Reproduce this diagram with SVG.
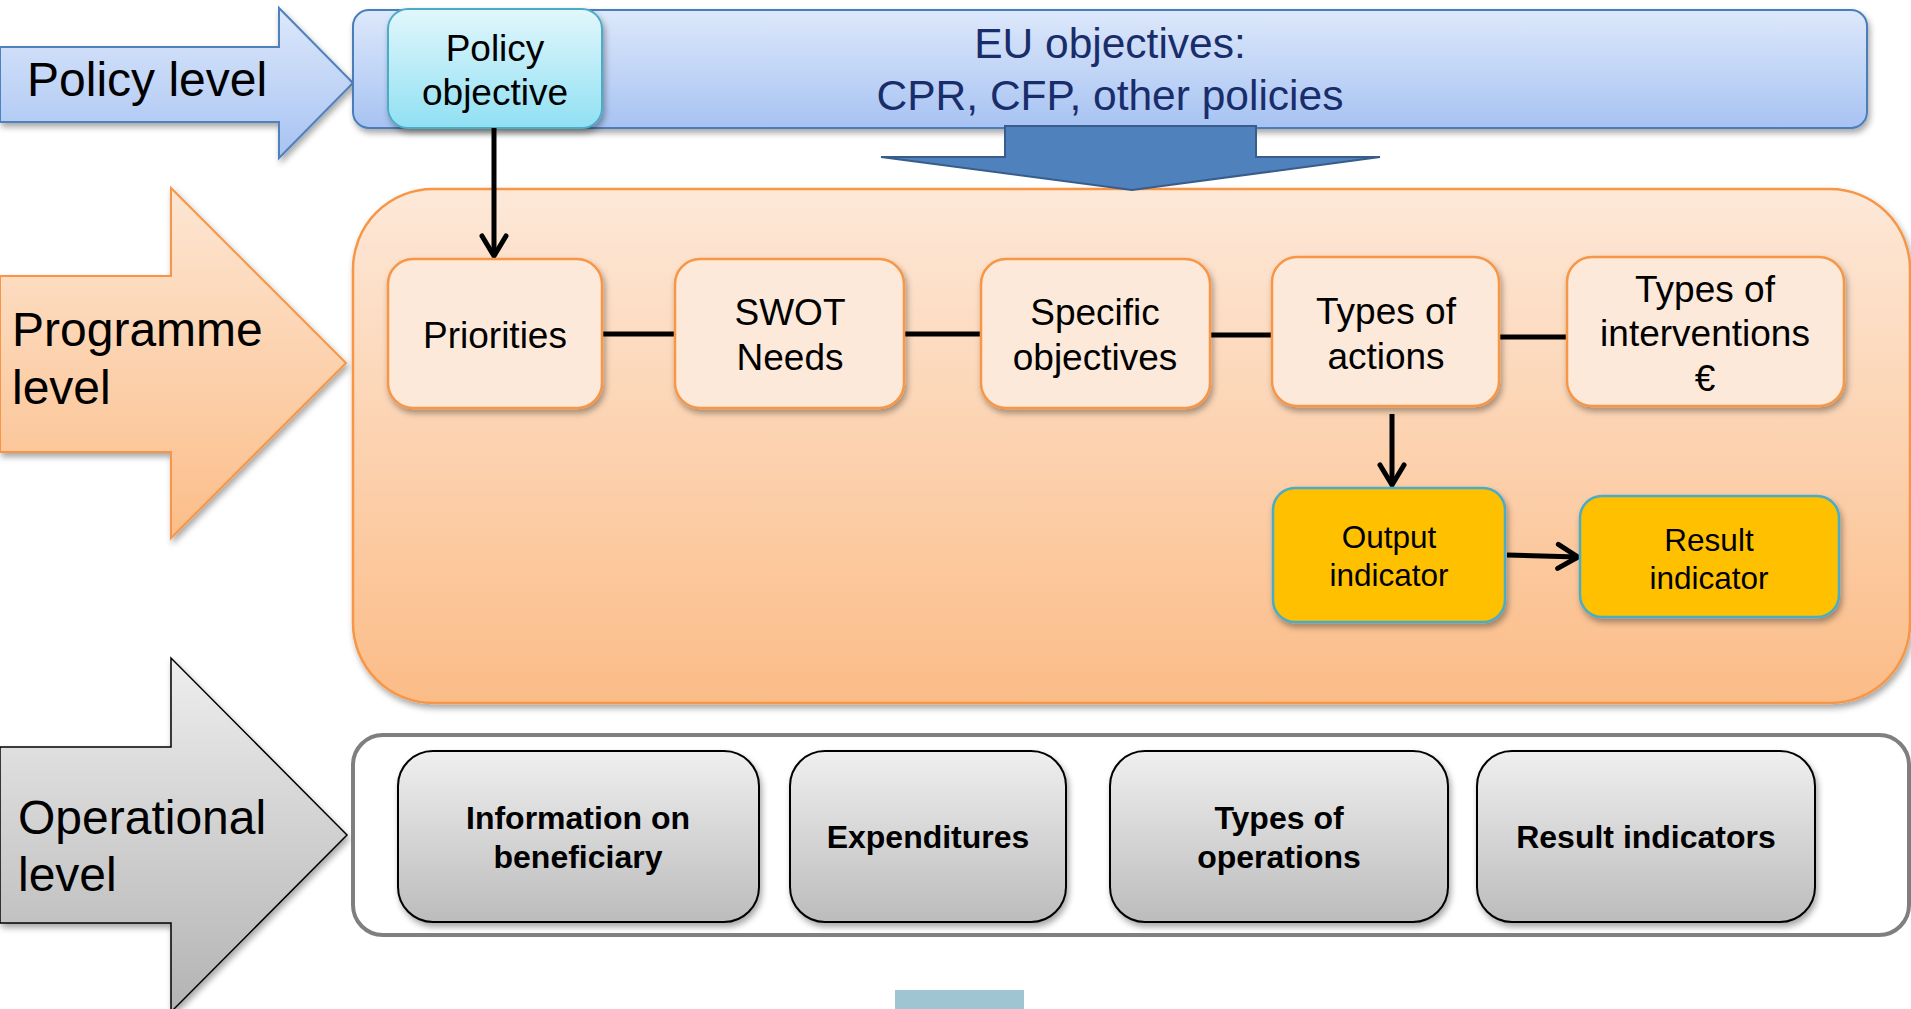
<svg xmlns="http://www.w3.org/2000/svg" width="1911" height="1009" viewBox="0 0 1911 1009">
<defs>
<linearGradient id="gBlue" x1="0" y1="0" x2="0" y2="1"><stop offset="0" stop-color="#dde8fb"/><stop offset="1" stop-color="#a7c3f2"/></linearGradient>
<linearGradient id="gCyan" x1="0" y1="0" x2="0" y2="1"><stop offset="0" stop-color="#e2f7fc"/><stop offset="1" stop-color="#90e0f3"/></linearGradient>
<linearGradient id="gOrange" x1="0" y1="0" x2="0" y2="1"><stop offset="0" stop-color="#fde6d3"/><stop offset="1" stop-color="#fbbd88"/></linearGradient>
<linearGradient id="gOrangeBox" x1="0" y1="0" x2="0" y2="1"><stop offset="0" stop-color="#fde8d8"/><stop offset="1" stop-color="#fbbc87"/></linearGradient>
<linearGradient id="gGray" x1="0" y1="0" x2="0" y2="1"><stop offset="0" stop-color="#eeeeee"/><stop offset="1" stop-color="#b3b3b3"/></linearGradient>
<linearGradient id="gGrayBox" x1="0" y1="0" x2="0" y2="1"><stop offset="0" stop-color="#efefef"/><stop offset="1" stop-color="#bcbcbc"/></linearGradient>
<filter id="sh" x="-10%" y="-10%" width="125%" height="135%"><feDropShadow dx="2" dy="4" stdDeviation="3" flood-color="#000" flood-opacity="0.35"/></filter>
<marker id="arr" viewBox="0 0 30 30" markerWidth="30" markerHeight="30" refX="25" refY="15" orient="auto" markerUnits="userSpaceOnUse"><path d="M5,3 L25,15 L5,27" fill="none" stroke="#000" stroke-width="5" stroke-linecap="round" stroke-linejoin="miter"/></marker>
<style>
.lvl{font-family:"Liberation Sans",Arial,sans-serif;font-size:48px;fill:#000}
.t{font-family:"Liberation Sans",Arial,sans-serif;font-size:37px;fill:#000;text-anchor:middle}
.ty{font-family:"Liberation Sans",Arial,sans-serif;font-size:31.5px;fill:#000;text-anchor:middle}
.tb{font-family:"Liberation Sans",Arial,sans-serif;font-size:32px;font-weight:bold;fill:#000;text-anchor:middle}
.teu{font-family:"Liberation Sans",Arial,sans-serif;font-size:42.5px;fill:#1a2d6b;text-anchor:middle}
.pbox{fill:#fde9d9;stroke:#f79646;stroke-width:2.5}
.ybox{fill:#ffc000;stroke:#4bacc6;stroke-width:2.5}
.gbox{fill:url(#gGrayBox);stroke:#000;stroke-width:2}
.conn{stroke:#000;stroke-width:5;fill:none}
</style>
</defs>

<g id="policy-level-arrow">
<polygon points="0,47 279,47 279,8 353,83 279,158 279,122 0,122" fill="url(#gBlue)" stroke="#4f81bd" stroke-width="2" filter="url(#sh)"/>
<text class="lvl" x="27" y="96">Policy level</text>
</g>
<g id="programme-level-arrow">
<polygon points="0,276 171,276 171,188 346,363 171,538 171,452 0,452" fill="url(#gOrange)" stroke="#f79646" stroke-width="2" filter="url(#sh)"/>
<text class="lvl" x="12" y="346">Programme</text>
<text class="lvl" x="12" y="404">level</text>
</g>
<g id="operational-level-arrow">
<polygon points="0,747 171,747 171,658 347,835 171,1012 171,923 0,923" fill="url(#gGray)" stroke="#000" stroke-width="1.5" filter="url(#sh)"/>
<text class="lvl" x="18" y="834">Operational</text>
<text class="lvl" x="18" y="891">level</text>
</g>

<g id="eu-objectives">
<rect x="353" y="10" width="1514" height="118" rx="16" fill="url(#gBlue)" stroke="#4a7ebb" stroke-width="2" filter="url(#sh)"/>
<text class="teu" x="1110" y="58">EU objectives:</text>
<text class="teu" x="1110" y="110">CPR, CFP, other policies</text>
</g>

<g id="policy-objective">
<rect x="388" y="9" width="214" height="119" rx="20" fill="url(#gCyan)" stroke="#4bacc6" stroke-width="2" filter="url(#sh)"/>
<text class="t" x="495" y="61">Policy</text>
<text class="t" x="495" y="105">objective</text>
</g>

<g id="programme-container">
<rect x="353" y="189" width="1557" height="514" rx="80" fill="url(#gOrangeBox)" stroke="#f79646" stroke-width="2.5" filter="url(#sh)"/>
</g>

<g id="eu-down-arrow">
<polygon points="1005,126 1256,126 1256,157 1380,157 1132,190 881,157 1005,157" fill="#4f81bd" stroke="#385d8a" stroke-width="2"/>
</g>

<g id="operational-container">
<rect x="353" y="735" width="1556" height="200" rx="30" fill="#ffffff" stroke="#7f7f7f" stroke-width="4"/>
</g>

<g id="connectors">
<line class="conn" x1="494" y1="128" x2="494" y2="256" marker-end="url(#arr)"/>
<line class="conn" x1="602" y1="334" x2="675" y2="334"/>
<line class="conn" x1="904" y1="334" x2="981" y2="334"/>
<line class="conn" x1="1210" y1="335" x2="1271" y2="335"/>
<line class="conn" x1="1499" y1="337" x2="1567" y2="337"/>
<line class="conn" x1="1392" y1="414" x2="1392" y2="485" marker-end="url(#arr)"/>
<line class="conn" x1="1507" y1="555" x2="1578" y2="557" marker-end="url(#arr)"/>
</g>

<g id="priorities">
<rect class="pbox" x="388" y="259" width="214" height="149" rx="25" filter="url(#sh)"/>
<text class="t" x="495" y="348">Priorities</text>
</g>
<g id="swot-needs">
<rect class="pbox" x="675" y="259" width="229" height="149" rx="25" filter="url(#sh)"/>
<text class="t" x="790" y="325">SWOT</text>
<text class="t" x="790" y="370">Needs</text>
</g>
<g id="specific-objectives">
<rect class="pbox" x="981" y="259" width="229" height="149" rx="25" filter="url(#sh)"/>
<text class="t" x="1095" y="325">Specific</text>
<text class="t" x="1095" y="370">objectives</text>
</g>
<g id="types-of-actions">
<rect class="pbox" x="1272" y="257" width="227" height="149" rx="25" filter="url(#sh)"/>
<text class="t" x="1386" y="324">Types of</text>
<text class="t" x="1386" y="369">actions</text>
</g>
<g id="types-of-interventions">
<rect class="pbox" x="1567" y="257" width="277" height="149" rx="25" filter="url(#sh)"/>
<text class="t" x="1705" y="302">Types of</text>
<text class="t" x="1705" y="346">interventions</text>
<text class="t" x="1705" y="391">€</text>
</g>

<g id="output-indicator">
<rect class="ybox" x="1273" y="488" width="232" height="134" rx="22" filter="url(#sh)"/>
<text class="ty" x="1389" y="548">Output</text>
<text class="ty" x="1389" y="586">indicator</text>
</g>
<g id="result-indicator">
<rect class="ybox" x="1580" y="496" width="259" height="121" rx="22" filter="url(#sh)"/>
<text class="ty" x="1709" y="551">Result</text>
<text class="ty" x="1709" y="589">indicator</text>
</g>

<g id="information-on-beneficiary">
<rect class="gbox" x="398" y="751" width="361" height="171" rx="35" filter="url(#sh)"/>
<text class="tb" x="578" y="829">Information on</text>
<text class="tb" x="578" y="868">beneficiary</text>
</g>
<g id="expenditures">
<rect class="gbox" x="790" y="751" width="276" height="171" rx="35" filter="url(#sh)"/>
<text class="tb" x="928" y="848">Expenditures</text>
</g>
<g id="types-of-operations">
<rect class="gbox" x="1110" y="751" width="338" height="171" rx="35" filter="url(#sh)"/>
<text class="tb" x="1279" y="829">Types of</text>
<text class="tb" x="1279" y="868">operations</text>
</g>
<g id="result-indicators">
<rect class="gbox" x="1477" y="751" width="338" height="171" rx="35" filter="url(#sh)"/>
<text class="tb" x="1646" y="848">Result indicators</text>
</g>

<rect x="895" y="990" width="129" height="22" fill="#9fc5d3"/>
</svg>
